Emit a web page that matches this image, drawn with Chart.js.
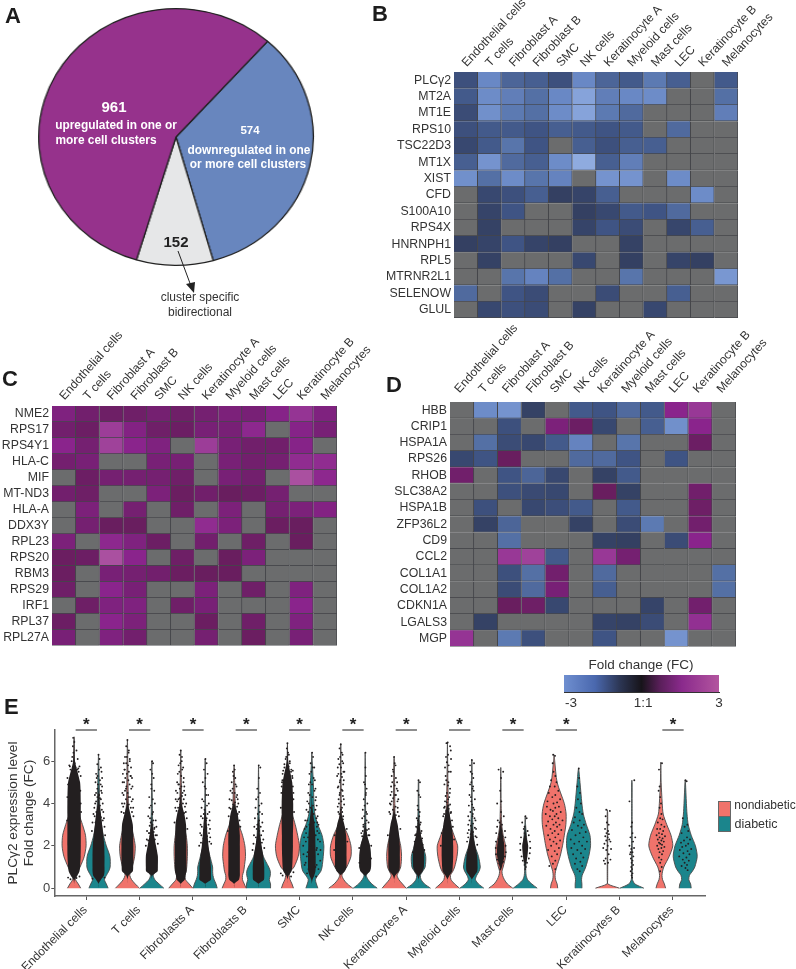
<!DOCTYPE html>
<html>
<head>
<meta charset="utf-8">
<title>Differential expression across skin cell clusters</title>
<script src="https://cdn.jsdelivr.net/npm/chart.js"></script>
<style>
  body { margin: 0; background: #fff; font-family: "Liberation Sans", Arial, sans-serif; }
  #page { position: relative; width: 796px; height: 969px; overflow: hidden; }
  canvas { position: absolute; }
  .t { position: absolute; white-space: nowrap; line-height: 1; transform: translate(-50%, -50%); }
  .letter { position: absolute; font-weight: bold; font-size: 22px; line-height: 1; color: #1c1c1c; }
  .w { color: #fff; font-weight: bold; }
  .swatch { position: absolute; left: 718px; width: 11px; height: 14px; border: 1px solid #666; }
</style>
</head>
<body>
<div id="page">
  <canvas id="pie" width="262" height="262" style="left:45px;top:6px;transform:scaleX(1.07)"></canvas>
  <canvas id="heatB" width="414" height="330" style="left:382px;top:0"></canvas>
  <canvas id="heatC" width="380" height="330" style="left:0;top:326px"></canvas>
  <canvas id="heatD" width="416" height="335" style="left:380px;top:322px"></canvas>
  <canvas id="scale" width="195" height="40" style="left:544px;top:675px"></canvas>
  <canvas id="violin" width="796" height="269" style="left:0;top:700px"></canvas>

  <svg style="position:absolute;left:0;top:0" width="796" height="330">
    <line x1="178" y1="251" x2="191" y2="286" stroke="#222" stroke-width="1"/>
    <polygon points="194,293 186,284 195,282" fill="#222"/>
  </svg>

  <div class="letter" style="left:5px;top:5px">A</div>
  <div class="letter" style="left:372px;top:3px">B</div>
  <div class="letter" style="left:2px;top:368px">C</div>
  <div class="letter" style="left:386px;top:374px">D</div>
  <div class="letter" style="left:4px;top:696px">E</div>

  <div class="t w" style="left:114px;top:106px;font-size:15px">961</div>
  <div class="t w" style="left:116px;top:126px;font-size:11.9px">upregulated in one or</div>
  <div class="t w" style="left:106px;top:141px;font-size:11.9px">more cell clusters</div>
  <div class="t w" style="left:250px;top:131px;font-size:11.5px">574</div>
  <div class="t w" style="left:249px;top:151px;font-size:11.9px">downregulated in one</div>
  <div class="t w" style="left:248px;top:165px;font-size:11.9px">or more cell clusters</div>
  <div class="t" style="left:176px;top:241px;font-size:15px;font-weight:bold;color:#222">152</div>
  <div class="t" style="left:200px;top:297px;font-size:12px;color:#333">cluster specific</div>
  <div class="t" style="left:200px;top:312px;font-size:12px;color:#333">bidirectional</div>

  <div class="t" style="left:641px;top:665px;font-size:13.5px;color:#333">Fold change (FC)</div>

  <div class="swatch" style="top:801px;background:#f0736b"></div>
  <div class="swatch" style="top:816px;background:#1b858c"></div>
  <div class="t" style="left:765px;top:805px;font-size:12px;color:#333">nondiabetic</div>
  <div class="t" style="left:756px;top:824px;font-size:12.5px;color:#333">diabetic</div>
</div>

<script>
const N = null; // gene not significant in that cluster, drawn grey

const pieLabels = ['downregulated', 'cluster specific bidirectional', 'upregulated'];
const pieValues = [574, 152, 961];
const pieColors = ['#6886be', '#e6e7e8', '#96328c'];

const heatCols = ['Endothelial cells', 'T cells', 'Fibroblast A', 'Fibroblast B', 'SMC', 'NK cells',
  'Keratinocyte A', 'Myeloid cells', 'Mast cells', 'LEC', 'Keratinocyte B', 'Melanocytes'];

const rowsB = ['PLCγ2', 'MT2A', 'MT1E', 'RPS10', 'TSC22D3', 'MT1X', 'XIST', 'CFD', 'S100A10', 'RPS4X',
  'HNRNPH1', 'RPL5', 'MTRNR2L1', 'SELENOW', 'GLUL'];
const cellsB = [
  [-1.4, -2.5, -1.8, -1.7, -1.4, -2.5, -1.8, -1.6, -2.2, -1.7, N, -1.6],
  [-1.6, -2.6, -2.3, -2.0, -2.5, -3.2, -2.3, -2.5, -2.6, N, N, -2.0],
  [-1.3, -2.7, -2.2, -2.0, -2.6, -3.2, -2.2, -1.9, N, N, N, -2.3],
  [-1.4, -1.6, -1.6, -1.5, -1.7, -1.6, -1.5, -1.6, N, -1.9, N, N],
  [-1.2, -1.6, -2.1, -1.5, N, -1.7, -1.4, -1.7, -1.7, N, N, N],
  [-1.7, -2.8, -1.9, -1.7, -2.6, -3.4, -1.7, -2.3, N, N, N, N],
  [-2.7, -2.0, -2.6, -2.1, -2.4, N, -2.8, -2.8, N, -2.6, N, N],
  [N, -1.2, -1.4, -1.7, -1.0, -1.1, -1.7, N, N, N, -2.6, N],
  [N, -1.1, -1.5, N, N, -1.0, -1.2, -1.6, -1.5, -1.9, N, N],
  [N, -1.05, N, N, N, -1.1, -1.5, -1.3, N, -1.15, -1.7, N],
  [-1.0, -1.1, -1.5, -1.1, -1.0, N, N, -1.05, N, N, N, N],
  [N, -1.05, N, N, N, -1.2, N, -1.0, N, -1.1, -1.0, N],
  [N, N, -2.1, -2.4, -2.0, N, N, -2.1, N, N, N, -2.9],
  [-1.9, N, -1.5, -1.3, N, N, -1.3, N, N, -1.7, N, N],
  [N, -1.2, -1.4, -1.3, N, -1.05, N, N, -1.2, N, N, N]
];

const rowsC = ['NME2', 'RPS17', 'RPS4Y1', 'HLA-C', 'MIF', 'MT-ND3', 'HLA-A', 'DDX3Y', 'RPL23', 'RPS20',
  'RBM3', 'RPS29', 'IRF1', 'RPL37', 'RPL27A'];
const cellsC = [
  [1.7, 1.3, 1.15, 1.2, 1.4, 1.2, 1.4, 1.6, 1.5, 1.9, 2.4, 1.7],
  [1.3, 1.1, 2.6, 1.8, 1.2, 1.1, 1.5, 1.5, 2.1, N, 1.9, 1.5],
  [2.0, 1.4, 2.7, 2.0, 1.7, N, 2.6, 1.5, 1.25, 1.25, 1.9, N],
  [1.35, 1.5, N, N, 1.5, 1.45, N, 1.5, 1.3, 1.4, 2.2, 2.2],
  [N, 1.1, 1.4, 1.4, 1.4, 1.2, N, 1.5, 1.3, N, 3.0, 2.1],
  [1.3, 1.15, N, N, 1.6, 1.05, 1.25, 1.0, 1.1, 1.4, N, N],
  [N, 1.6, N, 1.4, N, 1.2, N, 1.6, N, 1.4, 1.6, 1.8],
  [N, 1.4, 1.0, 1.0, N, N, 2.2, 1.6, N, 1.05, 1.0, N],
  [1.6, N, 2.1, 1.7, 1.1, N, 1.3, N, 1.15, N, 1.0, N],
  [1.05, 1.1, 3.0, 2.0, N, 1.15, N, 1.0, 1.6, N, N, N],
  [1.05, N, 1.5, 1.4, 1.3, 1.05, 1.0, 1.0, N, N, N, N],
  [1.2, N, 2.0, 1.5, N, N, 1.6, N, 1.2, N, 1.7, N],
  [N, 1.15, 1.7, 1.7, N, 1.2, 1.5, N, N, N, 2.0, N],
  [1.1, N, 2.0, 1.6, N, N, 1.05, N, 1.2, N, 1.7, N],
  [1.5, N, 1.7, 1.3, N, N, 1.4, N, 1.05, N, 1.5, N]
];

const rowsD = ['HBB', 'CRIP1', 'HSPA1A', 'RPS26', 'RHOB', 'SLC38A2', 'HSPA1B', 'ZFP36L2', 'CD9', 'CCL2',
  'COL1A1', 'COL1A2', 'CDKN1A', 'LGALS3', 'MGP'];
const cellsD = [
  [N, -2.6, -2.8, -1.05, N, -1.6, -1.5, -1.9, -1.6, 2.0, 2.5, N],
  [N, N, -1.4, N, 1.6, 1.1, -1.2, N, -1.7, -2.7, 2.0, N],
  [N, -2.0, -1.3, -1.2, -1.6, -2.4, N, -2.1, N, N, 1.1, N],
  [-1.2, -1.5, 1.0, N, N, -1.9, -1.9, -1.5, N, -1.5, N, N],
  [1.25, N, -1.5, -1.8, -1.2, N, -1.05, -1.6, N, N, N, N],
  [N, N, -1.4, -1.25, -1.2, N, 1.0, -1.05, N, N, 1.25, N],
  [N, -1.4, N, -1.2, -1.35, -1.6, N, -1.6, N, N, 1.15, N],
  [N, -1.05, -1.8, N, N, -1.05, N, -1.3, -2.2, N, 1.3, N],
  [N, N, -2.0, N, N, N, -1.05, -1.0, N, -1.3, 2.0, N],
  [N, N, 2.5, 2.7, -1.6, N, 2.5, 1.4, N, N, N, N],
  [N, N, -1.4, -2.0, 1.3, N, -1.9, N, N, N, N, -2.0],
  [N, N, -1.3, -1.9, 1.5, N, -1.7, N, N, N, N, -2.0],
  [N, N, 1.0, 1.15, -1.2, N, N, N, -1.1, N, 1.3, N],
  [N, -1.05, N, N, N, N, -1.1, -1.05, -1.3, N, 2.3, N],
  [2.4, N, -2.2, -1.4, N, N, -1.5, N, N, -2.8, N, N]
];

const scaleTicks = [-2.73, 0.06, 3];
const scaleTickLabels = ['-3', '1:1', '3'];

const violinCats = ['Endothelial cells', 'T cells', 'Fibroblasts A', 'Fibroblasts B', 'SMC', 'NK cells',
  'Keratinocytes A', 'Myeloid cells', 'Mast cells', 'LEC', 'Keratinocytes B', 'Melanocytes'];
const yAxisTicks = [0, 2, 4, 6];
const starred = [0, 1, 2, 3, 4, 5, 6, 7, 8, 9, 11];

// expression levels the violin widths are read at
const yLevels = [0, .2, .4, .6, .8, 1, 1.5, 2, 2.5, 3, 3.5, 4, 5, 6];
// highest expression of each violin, nondiabetic then diabetic per cluster
const violinTops = [7.15, 6.3, 7.0, 6.0, 6.5, 6.1, 5.8, 5.8, 6.85, 6.4, 6.8, 6.4, 6.2, 5.1, 6.9, 6.05, 5.7, 3.4, 6.3, 5.65, 3.7, 5.1, 5.95, 5.1];
// relative half width of each violin at yLevels
const violinWidths = [
  [.55, .35, .12, .08, .3, .5, .85, 1, .95, .7, .4, .2, .1, .03],
  [.8, .65, .5, .65, .85, .97, .95, .65, .4, .25, .15, .1, .06, .02],
  [1, .65, .35, .2, .25, .4, .6, .65, .5, .3, .15, .08, .05, .03],
  [1, .6, .25, .12, .3, .42, .42, .25, .12, .08, .05, .04, .02, .01],
  [1, .7, .4, .35, .45, .5, .55, .55, .45, .25, .12, .08, .05, .02],
  [1, .9, .75, .65, .62, .62, .4, .18, .1, .07, .05, .03, .02, .01],
  [1, .85, .7, .7, .8, .85, .95, .9, .7, .4, .2, .1, .05, .02],
  [1, 1, .9, .98, .98, .85, .4, .2, .12, .08, .05, .03, .02, .01],
  [.5, .38, .22, .15, .25, .55, .9, 1, .85, .65, .4, .22, .1, .03],
  [.5, .38, .3, .5, .75, .85, .95, 1, .85, .5, .25, .18, .12, .03],
  [1, .55, .25, .1, .25, .5, .85, .85, .6, .2, .06, .04, .03, .02],
  [1, .55, .25, .1, .3, .45, .45, .35, .12, .06, .04, .03, .02, .01],
  [1, .7, .4, .25, .4, .55, .62, .55, .35, .2, .08, .06, .04, .02],
  [1, .5, .22, .15, .35, .55, .6, .35, .15, .08, .05, .03, .02, .01],
  [1, .6, .3, .25, .45, .6, .8, .85, .55, .25, .15, .08, .04, .02],
  [1, .55, .3, .4, .6, .7, .55, .25, .12, .08, .05, .03, .02, .01],
  [1, .55, .3, .15, .1, .2, .4, .4, .2, .08, .05, .03, .02, .01],
  [1, .55, .2, .08, .05, .05, .12, .15, .1, .03, .02, .01, .01, .01],
  [.3, .25, .12, .08, .12, .22, .5, .7, .85, .98, 1, .85, .25, .05],
  [.28, .28, .25, .3, .45, .6, .85, 1, .95, .65, .4, .28, .12, .02],
  [1, .03, .02, .02, .02, .02, .02, .02, .02, .02, .02, .02, .02, .02],
  [1, .25, .05, .03, .03, .03, .03, .03, .03, .02, .02, .02, .02, .02],
  [.4, .3, .15, .1, .15, .25, .7, 1, .85, .5, .2, .12, .03, .01],
  [.5, .45, .3, .35, .6, .8, 1, .85, .5, .25, .15, .1, .02, .01]
];
// relative half width of the solid black mass of overlapping cells
const coreWidths = [
  [0, 0, .05, .28, .45, .5, .55, .56, .56, .56, .56, .56, .5, .08],
  [0, 0, .2, .45, .5, .5, .5, .48, .4, .3, .2, .08, 0, 0],
  [0, 0, 0, .1, .45, .48, .5, .5, .48, .45, .25, .04, 0, 0],
  [0, 0, 0, .05, .48, .5, .5, .35, .18, .06, 0, 0, 0, 0],
  [0, 0, .33, .4, .48, .48, .48, .48, .46, .44, .3, .08, 0, 0],
  [0, 0, .48, .48, .48, .48, .4, .28, .2, .14, .06, 0, 0, 0],
  [0, 0, .4, .48, .48, .48, .48, .48, .48, .42, .3, .05, 0, 0],
  [0, 0, .45, .48, .48, .48, .4, .25, .12, .06, 0, 0, 0, 0],
  [0, 0, 0, .1, .34, .4, .44, .46, .46, .48, .48, .48, .4, .06],
  [0, 0, .05, .2, .3, .32, .32, .3, .28, .22, .12, .03, 0, 0],
  [0, 0, 0, 0, .34, .48, .48, .48, .45, .3, .06, 0, 0, 0],
  [0, 0, 0, .05, .4, .48, .48, .4, .15, .03, 0, 0, 0, 0],
  [0, 0, 0, .1, .4, .48, .48, .48, .42, .3, .08, 0, 0, 0],
  [0, 0, 0, .1, .34, .45, .48, .4, .2, .08, 0, 0, 0, 0],
  [0, 0, 0, .17, .4, .44, .48, .48, .45, .34, .18, .02, 0, 0],
  [0, 0, 0, .22, .45, .48, .45, .28, .12, .04, 0, 0, 0, 0],
  [0, 0, 0, 0, 0, .1, .3, .3, .18, .05, 0, 0, 0, 0],
  [0, 0, 0, 0, 0, 0, .18, .25, .08, 0, 0, 0, 0, 0],
  [0, 0, 0, 0, 0, 0, 0, 0, 0, 0, 0, 0, 0, 0],
  [0, 0, 0, 0, 0, 0, 0, 0, 0, 0, 0, 0, 0, 0],
  [0, 0, 0, 0, 0, 0, 0, 0, 0, 0, 0, 0, 0, 0],
  [0, 0, 0, 0, 0, 0, 0, 0, 0, 0, 0, 0, 0, 0],
  [0, 0, 0, 0, 0, 0, 0, 0, 0, 0, 0, 0, 0, 0],
  [0, 0, 0, 0, 0, 0, 0, 0, 0, 0, 0, 0, 0, 0]
];
// stray cells: offset from violin centre, expression, offset, expression, ...
const strayCells = [
  [-.08,7.1,-.1,6.7,.2,6.5,-.15,6.2,.3,6.1,.05,5.9,-.4,5.8,.45,5.75,-.3,5.6,.38,5.5,-.55,5.2,.55,5.3,-.5,4.9,.52,4.6,-.56,4.3,.55,4,-.5,.5,.45,.55,-.3,.42,.2,.48,.58,3.6,-.58,3.2],
  [0,6.3,.08,6.1,-.1,5.85,.2,5.7,.25,5.5,-.2,5.4,.3,5.2,-.25,5,.18,4.9,-.1,4.7,.28,4.5,-.3,4.4,.12,4.25,-.2,4.1,.35,4,-.35,3.8,.4,3.6,-.42,3.5,.45,3.3,-.5,3.1,.5,2.9,-.55,2.7,.55,2.5,.3,4.8,-.15,5.2,-.5,.45,.5,.5],
  [0,7,-.1,6.7,.12,6.5,-.2,6.2,.2,6.1,-.3,5.9,.3,5.7,-.38,5.4,.38,5.2,-.4,5,.42,4.8,-.42,4.5,.45,4.2,-.45,4,.48,3.8,-.5,3.6,.5,3.4,-.25,5.6,.25,5.3,.1,4.3,-.12,4.7],
  [.02,6,.1,5.9,-.12,5.6,.15,5.2,-.05,4.9,.2,4.6,-.22,4.3,.25,4,-.2,3.8,.1,3.6,-.3,3.4,.32,3.2,-.1,3.1,.38,2.9,-.4,2.7,.42,2.5,-.42,2.3,.2,2.8,-.2,2.6,.5,2.1,-.5,2],
  [0,6.5,-.1,6.3,.08,6,-.18,5.8,.2,5.7,-.25,5.4,.25,5.2,-.3,5,.3,4.8,-.4,4.6,.38,4.4,-.42,4.2,.45,4,-.45,3.8,.42,3.6,-.15,4.9,.15,4.5,-.2,4.2,.5,3.3,-.52,3.1,.55,2.8],
  [.02,6.1,.12,5.9,-.1,5.6,.2,5.4,-.2,5,.05,4.7,.25,4.4,-.25,4.2,.3,4,-.3,3.8,.35,3.6,-.35,3.4,.38,3.2,-.38,3,.4,2.8,-.42,2.6,.42,2.4,.12,3.3,-.12,3.5,.5,2.1,-.5,2],
  [0,5.8,-.1,5.5,.1,5.2,-.2,5,.2,4.8,-.3,4.6,.25,4.4,-.38,4.2,.35,4,-.4,3.8,.42,3.6,-.45,3.4,.45,3.2,.3,4.2,-.15,4.5,.52,2.9,-.52,2.7],
  [.02,5.8,.15,5.7,-.1,4.7,.12,4.5,-.2,4.2,.25,4,-.25,3.8,.3,3.5,-.3,3.3,.32,3.1,-.35,2.9,.38,2.7,-.38,2.5,.4,2.3,-.42,2.1,.1,3.6,-.1,3,.48,1.9,-.5,1.8],
  [0,6.85,-.05,6.6,.12,6.3,-.15,6.1,.2,5.9,-.25,5.7,.3,5.5,-.4,5.4,.42,5.2,-.45,5,.45,4.8,-.5,4.5,.5,4.2,-.55,.7,.5,.75,-.4,.6,.3,.55,-.55,3.8,.55,3.6,-.1,.85],
  [.02,6.4,.1,6.2,-.1,5.9,.2,5.7,-.2,5.4,.25,5.1,-.25,4.9,.3,4.7,-.3,4.5,.35,4.3,-.38,4.1,.4,3.9,-.45,3.7,.48,3.4,-.55,3.2,.55,3,-.6,2.8,.6,2.6,-.65,2.4,.68,2.2,-.72,2,.72,1.8,-.7,1.6,.7,1.3,-.6,1.1,.55,.9,-.4,.7,.35,.55,.45,2.7,-.5,2.2,.52,1.6,-.52,1.2,.5,2.3,-.45,2.9,.42,1.9,-.42,1.5,.4,1.1,.45,3.1,-.48,2.6],
  [0,6.8,-.1,6.6,.15,6.3,-.2,6.1,.2,5.9,-.25,5.7,.3,5.5,-.3,5.3,.25,5.1,-.2,4.8,.15,4.6,-.1,4.4,.25,4.2,-.15,4,.1,3.8,-.2,3.6,.2,3.4,-.08,5,.05,5.4,.5,2.8,-.5,2.5,.55,2.2,-.55,1.8],
  [.02,6.4,.05,5.3,-.1,5,.12,4.7,.05,4.4,-.12,4.2,.18,4,-.2,3.7,.15,3.5,-.25,3.3,.28,3.1,-.15,3,.3,2.8,-.32,2.6,.35,2.5,.5,2,-.5,1.9,.48,1.4,-.48,1.2],
  [0,6.2,.12,5.8,-.1,5.6,-.2,5.3,.25,5,-.25,4.8,.3,4.6,-.3,4.4,.35,4.2,-.35,4,.3,3.8,-.4,3.6,.4,3.4,-.2,4.1,.15,4.4,.52,2.8,-.52,2.5],
  [0,5.1,.12,5,-.1,4.6,.15,4.3,-.08,3.9,.1,3.6,-.15,3.3,.18,3.1,-.2,2.9,.25,2.7,-.28,2.5,.3,2.35,-.32,2.2,.35,2.05,.48,1.8,-.48,1.7],
  [.02,6.88,-.08,6.85,.22,6.7,.28,6.5,-.12,6.2,.3,6.1,.1,5.8,-.2,5.7,.28,5.5,-.15,5.3,.08,5,-.25,4.9,.22,4.7,-.05,4.5,.15,4.3,-.2,4.1,.1,3.9,-.28,3.8,.3,3.6,-.35,3.4,.38,3.2,.45,2.9,-.48,2.6,.55,2.3,-.55,2],
  [0,6.05,-.15,5.8,.18,5.9,-.1,5.5,.12,5.2,-.15,4.9,.15,4.6,-.2,4.4,.25,4.2,-.25,3.9,.2,3.7,.08,3.5,-.3,3.4,.3,3.2,-.3,3,.35,2.8,-.35,2.6,.4,2.4,-.4,2.2,.45,2.05,.05,4.7,-.05,4.1],
  [-.18,5.6,.2,5.5,.02,5.2,-.05,4.6,.05,4.1,-.3,4,.02,3.6,.25,3.4,-.25,3.2,-.3,2.9,.1,3,-.1,3.1,.35,2.7,-.38,2.6,.38,2.4,-.4,2.2,.4,2,-.42,1.9,.42,1.7,-.4,1.6,.35,1.5,-.3,1.35,.2,1.25,-.12,1.15,.05,1.05,-.05,.9],
  [-.25,3.1,.02,3.4,.12,3.3,-.12,2.8,.2,2.7,-.05,2.6,.3,2.5,-.35,2.4,.4,2.2,-.42,2.1,.42,1.9,-.4,1.8,.38,1.65,-.3,1.5,.3,1.4,-.2,1.3,.15,1.2,-.05,1.1,.05,1,0,.9,-.05,2.9],
  [-.08,6.3,.08,6.25,-.12,5.9,-.05,5.5,.1,5.3,-.25,5.1,.2,5,-.35,4.8,.05,4.8,.35,4.6,-.45,4.5,.1,4.4,-.15,4.3,.5,4.2,-.55,4.1,.25,4.05,-.05,4,-.6,3.85,.4,3.85,.1,3.8,-.3,3.7,-.1,3.65,.55,3.6,.2,3.5,-.7,3.5,-.35,3.4,.05,3.4,.35,3.3,-.15,3.25,.7,3.2,-.5,3.15,.15,3.1,-.05,3,.45,3,-.65,2.95,.25,2.9,-.3,2.8,.6,2.75,.05,2.7,-.15,2.6,.35,2.55,-.5,2.5,.1,2.4,-.35,2.3,.5,2.25,-.05,2.2,.2,2.1,-.25,2,.4,1.9,-.5,1.8,.05,1.75,.25,1.6,-.2,1.5,.1,1.3,-.1,1.15,-.4,1.05,.1,.9],
  [.02,5.65,.05,5.2,-.1,4.8,.12,4.5,-.05,4.2,.2,4,-.18,3.8,.08,3.6,.3,3.5,-.3,3.35,.1,3.2,-.4,3.1,.45,3,-.05,2.95,.25,2.85,-.55,2.75,.6,2.65,.1,2.6,-.25,2.5,.4,2.4,-.65,2.3,.7,2.2,.05,2.2,-.35,2.1,.3,2,-.6,1.9,.55,1.85,-.1,1.8,.2,1.65,-.45,1.6,.4,1.45,-.2,1.4,.15,1.25,-.3,1.15,.3,1.05,-.1,.9,.1,.8],
  [-.1,3.7,.2,3.65,-.15,3.4,-.05,3.1,.1,3,-.2,2.8,.05,2.7,-.08,2.6,.12,2.55,-.18,2.45,.02,2.4,.15,2.3,-.1,2.25,.25,2.2,-.25,2.1,.02,2,-.35,1.9,.3,1.85,-.1,1.8,.1,1.6,-.15,1.4,.25,1.35,-.3,1.3,.05,1.2,-.2,1.15],
  [.2,5.1,-.2,4.1,-.05,2.9,.05,2.6,-.12,2.4,.1,2.2,-.2,2,.18,1.9,-.05,1.85,.05,1.7,-.15,1.6,.12,1.5,-.08,1.4,.05,1.3,-.02,1.2,.1,1.1,-.05,1,.02,.9,-.1,.8,.05,.7,-.02,.6,.02,.5,.28,2.4,-.1,1.7,.02,3.1],
  [.1,5.9,-.15,5.6,-.1,4.8,-.18,4.6,-.05,4.3,.02,4,-.1,3.8,.05,3.5,-.05,3.3,.15,3.25,-.25,3.1,.05,3,.3,2.9,-.3,2.8,-.05,2.8,.2,2.7,-.15,2.6,.1,2.55,-.35,2.5,.35,2.45,-.1,2.4,.15,2.35,-.25,2.3,.05,2.25,.25,2.2,-.15,2.15,-.05,2.1,.1,2.05,-.3,2,.3,1.95,.05,1.9,-.2,1.85,.2,1.75,-.1,1.7,.1,1.6,-.15,1.45,.05,1.35,-.05,1.2,.08,1,-.05,.8],
  [.02,5.1,.12,5.05,-.2,3.3,.18,3,-.05,2.9,.25,2.7,-.3,2.6,.15,2.4,.4,2.3,-.1,2.25,-.35,2.15,.25,2.1,.05,2,-.25,1.95,.5,1.85,-.45,1.8,.2,1.75,-.15,1.65,.35,1.6,-.5,1.5,.1,1.45,-.2,1.35,.3,1.3,-.05,1.2,.15,1.1,-.3,1.05,.02,.95,.2,.85]
];
// the thin upper spindles of the crowded clusters, same layout as strayCells
const spindleCells = [
  [.02,6.9,-.2,6,.12,5.7,-.35,5.75,.25,5.6,-.05,6.4,.35,5.65],
  [.05,5.6,-.08,5.3,.12,5.1,-.05,4.9,.22,4.6,-.2,4.5,.05,4.4,-.1,4.3,.2,4.2,-.28,4,.12,3.9,-.05,3.8,.28,3.7,-.18,3.6,.08,3.5,-.32,3.4,.2,3.35,-.12,3.25,.35,3.2,-.25,3.1,.05,3.05],
  [.1,6.4,-.05,6.2,.2,6,-.1,5.9,.05,5.8,-.22,5.6,.12,5.5,-.05,5.4,.28,5.3,-.18,5.2,.08,5.1,-.28,5,.18,4.9,-.08,4.8,.32,4.7,-.2,4.6,.02,4.5,-.32,4.4,.22,4.3,-.12,4.2,.35,4.1,-.25,4,.12,3.95,-.35,3.85,.28,3.8,-.05,3.7,.38,3.6,-.3,3.55,.15,3.5,-.15,3.4],
  [.03,5.4,-.04,4.7,.08,4.2,-.08,3.9,.04,3.5,-.15,3.3,.12,3.2,.05,3,-.18,2.95,.22,2.85,-.05,2.75,.15,2.65,-.25,2.6,.3,2.5,-.12,2.45,.08,2.4,.25,2.3,-.3,2.25],
  [.1,6.2,-.04,5.9,.12,5.6,-.12,5.5,.04,5.3,.22,5,-.2,4.9,.06,4.8,-.08,4.7,.28,4.6,-.28,4.5,.1,4.35,-.1,4.25,.25,4.2,-.3,4.1,.18,4,-.05,3.95,.35,3.85,-.22,3.8,.08,3.7,-.35,3.65,.28,3.55,-.12,3.5],
  [.02,5.2,-.04,4.8,.08,4.4,-.12,4.1,.15,3.9,-.05,3.7,.2,3.5,-.2,3.3,.08,3.2,.28,3,-.28,2.9,.1,2.85,-.1,2.75,.32,2.6,-.32,2.5,.15,2.45,-.15,2.35,.35,2.2,-.35,2.15],
  [.05,5.6,-.05,5.3,.12,4.9,-.12,4.7,.05,4.5,.2,4.3,-.2,4.15,.08,4.05,-.08,3.95,.25,3.85,-.28,3.75,.12,3.65,-.12,3.6,.3,3.5,.02,3.45],
  [.03,5.2,-.03,4.3,.06,3.9,-.06,3.5,.05,3.2,.18,2.9,-.15,2.8,.05,2.7,.22,2.5,-.22,2.4,.1,2.3,-.1,2.2,.28,2.15],
  [.05,6.4,-.1,6.2,.2,6,-.25,5.85,.1,5.75,.32,5.6,-.35,5.55,.4,5.3,-.42,5.1,.45,5.55,-.48,4.8,.5,4.5],
  [.08,5.7,-.05,5.5,.15,5.2,-.12,5,.02,4.9,.22,4.6,-.18,4.4,.05,4.3,.3,4.15,-.25,4,.1,3.9,-.1,3.8,.3,3.7,-.3,3.6,.15,3.5,-.02,3.4,.38,3.3,-.38,3.2,.2,3.1,-.2,3,.42,2.9,.08,2.8,-.08,2.7,.32,2.5,-.32,2.4,.1,2.2,-.12,2,.38,1.8,-.35,1.7,.15,1.5,-.18,1.3,.3,1,-.28,.9],
  [.08,6.4,-.05,6.2,.12,6,-.12,5.85,.02,5.7,.22,5.5,-.2,5.4,.1,5.25,-.05,5.1,.2,4.9,-.25,4.75,.08,4.65,-.08,4.5,.18,4.35,-.18,4.2,.05,4.1,.28,3.95,-.25,3.85,.02,3.7,.12,3.6,-.12,3.5,.05,3.35,.18,3.25],
  [.02,5.7,-.02,4.9,.06,4.5,-.05,3.9,.08,3.6,-.08,3.4,.12,3.2,.02,3.05,-.15,2.9,.15,2.75,-.2,2.7,.08,2.6,.25,2.5,-.25,2.45],
  [.05,5.9,-.06,5.5,.15,5.2,-.15,5,.05,4.85,.22,4.7,-.2,4.55,.08,4.4,-.08,4.25,.28,4.1,-.28,3.95,.12,3.85,-.1,3.7,.3,3.6,-.32,3.5,.15,3.45,.02,3.35],
  [.03,4.4,-.03,3.7,.06,3.4,-.06,3.2,.12,3,-.1,2.85,.05,2.75,.2,2.6,-.2,2.55,.08,2.45,-.08,2.35,.25,2.25],
  [.05,6.3,-.05,5.95,.12,5.5,-.1,5.1,.04,4.85,.2,4.5,-.15,4.35,.06,4.2,-.06,4.05,.22,3.95,-.22,3.85,.1,3.75,-.1,3.65,.28,3.55,-.28,3.5],
  [.03,5.4,-.04,5,.1,4.8,-.08,4.3,.02,3.95,.12,3.8,-.12,3.6,.05,3.4,.22,3.3,-.2,3.2,.1,3.05,-.08,2.95,.25,2.85,-.25,2.75,.1,2.65,-.1,2.55,.3,2.45,-.3,2.4],
  [], [], [], [], [], [], [], []
];

const maxHalfWidth = 0.225;
const violinOffset = 0.229;
const violinFill = ['#f0736b', '#1b858c'];

// FC stops for the fold change colours, magnitude then rgb
const negStops = [[1, 52, 64, 98], [1.5, 63, 84, 132], [2, 84, 112, 165], [2.5, 105, 136, 197], [3, 125, 155, 212], [3.5, 148, 175, 226]];
const posStops = [[1, 105, 30, 95], [1.5, 120, 32, 118], [2, 138, 36, 140], [2.5, 152, 56, 150], [3, 170, 80, 160]];

function cellColor(v) {
  if (v === null) return '#6b6c6d';
  const stops = v < 0 ? negStops : posStops;
  const m = Math.abs(v);
  for (let i = 1; i < stops.length; i++) {
    if (m <= stops[i][0]) {
      const a = stops[i - 1], b = stops[i], t = (m - a[0]) / (b[0] - a[0]);
      return 'rgb(' + [1, 2, 3].map(k => Math.round(a[k] + (b[k] - a[k]) * t)).join(',') + ')';
    }
  }
  return 'rgb(' + stops[stops.length - 1].slice(1).join(',') + ')';
}

const labelFont = { family: '"Liberation Sans", Arial, sans-serif', size: 12.1 };
const quiet = { legend: { display: false }, tooltip: { enabled: false } };

function heatmap(id, rows, cells, box) {
  new Chart(document.getElementById(id), {
    type: 'bar',
    data: {
      labels: rows,
      datasets: heatCols.map((c, j) => ({
        label: c,
        data: rows.map(() => 1),
        backgroundColor: rows.map((r, i) => cellColor(cells[i][j])),
        borderColor: '#45464a',
        borderWidth: { right: 1, bottom: 1 },
        borderSkipped: false,
        barPercentage: 1,
        categoryPercentage: 1
      }))
    },
    options: {
      indexAxis: 'y',
      responsive: false,
      animation: false,
      layout: { autoPadding: false, padding: { right: box.right, bottom: box.bottom } },
      plugins: quiet,
      scales: {
        x: {
          type: 'linear', position: 'top', stacked: true, min: 0, max: 12,
          afterBuildTicks: s => { s.ticks = heatCols.map((c, j) => ({ value: j + 0.5 })); },
          afterFit: s => { s.height = box.top; },
          ticks: { autoSkip: false, minRotation: box.rot, maxRotation: box.rot, padding: box.pad, labelOffset: box.shift,
            color: '#333', font: labelFont, callback: v => heatCols[v - 0.5] },
          grid: { display: false, drawTicks: false },
          border: { display: false }
        },
        y: {
          stacked: true,
          afterFit: s => { s.width = box.left; },
          ticks: { autoSkip: false, padding: 3, color: '#333', font: { family: labelFont.family, size: 12.3 } },
          grid: { display: false, drawTicks: false },
          border: { display: false }
        }
      }
    }
  });
}

new Chart(document.getElementById('pie'), {
  type: 'pie',
  data: { labels: pieLabels, datasets: [{ data: pieValues, backgroundColor: pieColors, borderColor: '#222', borderWidth: 1.3 }] },
  options: { responsive: false, animation: false, rotation: 41.8, layout: { padding: 2 }, plugins: quiet }
});

heatmap('heatB', rowsB, cellsB, { left: 72, top: 72, right: 58, bottom: 12, rot: 47, pad: 2, shift: 9 });
heatmap('heatC', rowsC, cellsC, { left: 52, top: 80, right: 43, bottom: 6, rot: 48, pad: 3, shift: 9 });
heatmap('heatD', rowsD, cellsD, { left: 70, top: 80, right: 60, bottom: 8, rot: 48, pad: 6, shift: 6 });

new Chart(document.getElementById('scale'), {
  type: 'bar',
  data: {
    labels: ['FC'],
    datasets: [{
      data: [[-3, 3]],
      barPercentage: 1,
      categoryPercentage: 1,
      backgroundColor: ctx => {
        const a = ctx.chart.chartArea;
        if (!a) return '#000';
        const g = ctx.chart.ctx.createLinearGradient(a.left, 0, a.right, 0);
        [[0, '#6f8fd0'], [.2, '#4a68ae'], [.36, '#2c3654'], [.5, '#17141a'], [.62, '#5a1f5a'], [.76, '#8a2a8c'], [1, '#b3559f']]
          .forEach(s => g.addColorStop(s[0], s[1]));
        return g;
      }
    }]
  },
  options: {
    indexAxis: 'y',
    responsive: false,
    animation: false,
    layout: { autoPadding: false, padding: { left: 20, right: 20 } },
    plugins: quiet,
    scales: {
      x: {
        type: 'linear', min: -3, max: 3,
        afterBuildTicks: s => { s.ticks = scaleTicks.map(v => ({ value: v })); },
        afterFit: s => { s.height = 23; },
        ticks: { autoSkip: false, maxRotation: 0, padding: 3, color: '#333', font: { family: labelFont.family, size: 13.5 },
          callback: v => scaleTickLabels[scaleTicks.indexOf(v)] },
        grid: { display: false, drawTicks: false },
        border: { display: true, color: '#333', width: 1 }
      },
      y: { display: false }
    }
  }
});

function outline(center, widths, top) {
  const ys = yLevels.filter(y => y < top);
  const left = ys.map((y, k) => ({ x: center - widths[k] * maxHalfWidth, y: y }));
  const right = ys.map((y, k) => ({ x: center + widths[k] * maxHalfWidth, y: y })).reverse();
  return left.concat([{ x: center, y: top }], right);
}

const violinSets = [];
violinTops.forEach((top, i) => {
  const cat = Math.floor(i / 2);
  const center = cat + (i % 2 ? violinOffset : -violinOffset);
  const cloud = strayCells[i].concat(spindleCells[i]);
  const pts = [];
  for (let k = 0; k < cloud.length; k += 2) pts.push({ x: center + cloud[k] * maxHalfWidth, y: cloud[k + 1] });
  violinSets.push({ data: pts, showLine: false, pointRadius: 0.95, pointBorderWidth: 0, pointBackgroundColor: '#231f20', order: 0 });
  if (coreWidths[i].some(w => w > 0)) {
    violinSets.push({ data: outline(center, coreWidths[i], top), fill: 'shape', backgroundColor: '#231f20', borderWidth: 0, pointRadius: 0, tension: 0.2, order: 1 });
  }
  violinSets.push({ data: outline(center, violinWidths[i], top), fill: 'shape', backgroundColor: violinFill[i % 2], borderColor: '#4a4a4a', borderWidth: 0.9, pointRadius: 0, tension: 0.25, order: 2 });
});
starred.forEach(cat => {
  violinSets.push({ data: [{ x: cat - 0.2, y: 7.47 }, { x: cat + 0.2, y: 7.47 }], borderColor: '#444', borderWidth: 1.2, pointRadius: 0, clip: false, order: 3 });
});

const starPlugin = {
  id: 'stars',
  afterDatasetsDraw(chart) {
    const c = chart.ctx;
    c.save();
    c.fillStyle = '#222';
    c.font = 'bold 17px "Liberation Sans", Arial, sans-serif';
    c.textAlign = 'center';
    c.textBaseline = 'alphabetic';
    starred.forEach(cat => c.fillText('*', chart.scales.x.getPixelForValue(cat), chart.chartArea.top));
    c.restore();
  }
};

new Chart(document.getElementById('violin'), {
  type: 'line',
  data: { datasets: violinSets },
  plugins: [starPlugin],
  options: {
    responsive: false,
    animation: false,
    layout: { autoPadding: false, padding: { top: 30, right: 91 } },
    plugins: quiet,
    scales: {
      x: {
        type: 'linear', min: -0.6, max: 11.6,
        afterBuildTicks: s => { s.ticks = violinCats.map((c, i) => ({ value: i })); },
        afterFit: s => { s.height = 73; },
        ticks: { autoSkip: false, minRotation: 45, maxRotation: 45, padding: 3, labelOffset: -1, color: '#333', font: { family: labelFont.family, size: 12 },
          callback: v => violinCats[v] },
        grid: { drawOnChartArea: false, tickLength: 4, color: '#555' },
        border: { color: '#666', width: 1.5 }
      },
      y: {
        min: -0.37, max: 7.47,
        afterBuildTicks: s => { s.ticks = yAxisTicks.map(v => ({ value: v })); },
        afterFit: s => { s.width = 54.3; },
        title: { display: true, text: ['PLCγ2 expression level', 'Fold change (FC)'], color: '#333',
          font: { family: labelFont.family, size: 13.7 }, padding: { top: 5, bottom: 0 } },
        ticks: { padding: 1, color: '#444', font: { family: labelFont.family, size: 13 } },
        grid: { drawOnChartArea: false, tickLength: 3, color: '#555' },
        border: { color: '#666', width: 1.5 }
      }
    }
  }
});
</script>
</body>
</html>
